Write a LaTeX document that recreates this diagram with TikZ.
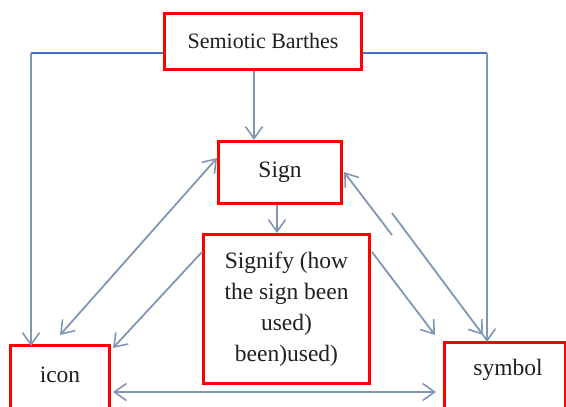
\documentclass[tikz,border=0pt]{standalone}
\usepackage{fontspec}
\setmainfont{Liberation Serif}
\usetikzlibrary{arrows.meta}
\definecolor{boxred}{HTML}{FF0000}
\definecolor{conn}{HTML}{8096B4}
\definecolor{topblue}{HTML}{4472C4}
\definecolor{ink}{HTML}{231F20}
\begin{document}
\begin{tikzpicture}[x=1pt,y=-1pt,
  box/.style={draw=boxred,line width=3pt,fill=white,inner sep=0pt,align=center,
    font=\fontsize{23.5}{31}\selectfont,text=ink},
  lbl/.style={text=ink,font=\fontsize{23.5}{31}\selectfont,inner sep=0pt},
  conn/.style={draw=conn,line width=1.8pt},
  tip/.style={-{Straight Barb[length=12pt,width=17pt,line width=1.6pt]}},
  dtip/.style={{Straight Barb[length=12pt,width=17pt,line width=1.6pt]}-{Straight Barb[length=12pt,width=17pt,line width=1.6pt]}}]
\useasboundingbox (0,0) rectangle (566,407);
\node[box,minimum width=197pt,minimum height=56pt,font=\fontsize{22}{28}\selectfont] (B) at (263,41) {Semiotic Barthes};
\node[box,minimum width=123pt,minimum height=62pt] (S) at (280,172.5) {Sign};
\node[box,minimum width=166pt,minimum height=149pt] (F) at (286.5,309)
  {Signify (how\\the sign been\\used)\\been)used)};
\node[box,minimum width=99pt,minimum height=66pt] (I) at (60,378) {};
\node[lbl] (It) at (I.center |- 0,375) {icon};
\node[box,minimum width=121pt,minimum height=66pt] (Y) at (505,375) {};
\node[lbl] (Yt) at (508,370) {symbol};
% corner coordinates
\coordinate (bl) at (B.west |- 0,53);
\coordinate (br) at (B.east |- 0,53);
\coordinate (cl) at (31,53);
\coordinate (cr) at (487,53);
\coordinate (il) at (31,346);
\coordinate (yr) at (487,342);
% top connectors
\draw[topblue,line width=1.8pt] (bl) -- (cl);
\draw[topblue,line width=1.8pt] (br) -- (cr);
\draw[conn,tip] (cl) -- (il);
\draw[conn,tip] (cr) -- (yr);
\draw[conn,tip] (B.south -| 254,0) -- (S.north -| 254,0);
\draw[conn,tip] (S.south -| 277,0) -- (F.north -| 277,0);
% diagonals
\coordinate (s1) at (217,158);
\coordinate (i1) at (60,335);
\draw[conn,dtip] (i1) -- (s1);
\coordinate (f1) at (202,252);
\coordinate (i2) at (113,348);
\draw[conn,tip] (f1) -- (i2);
\coordinate (f2) at (372,252);
\coordinate (y1) at (435,335);
\draw[conn,tip] (f2) -- (y1);
\coordinate (a1) at (392,235);
\coordinate (s2) at (344,172);
\draw[conn,tip] (a1) -- (s2);
\coordinate (a2) at (392,213);
\coordinate (y2) at (483,335);
\draw[conn,tip] (a2) -- (y2);
% bottom
\coordinate (i3) at (113,392);
\coordinate (y3) at (436,392);
\draw[conn,dtip] (i3) -- (y3);
\end{tikzpicture}
\end{document}
